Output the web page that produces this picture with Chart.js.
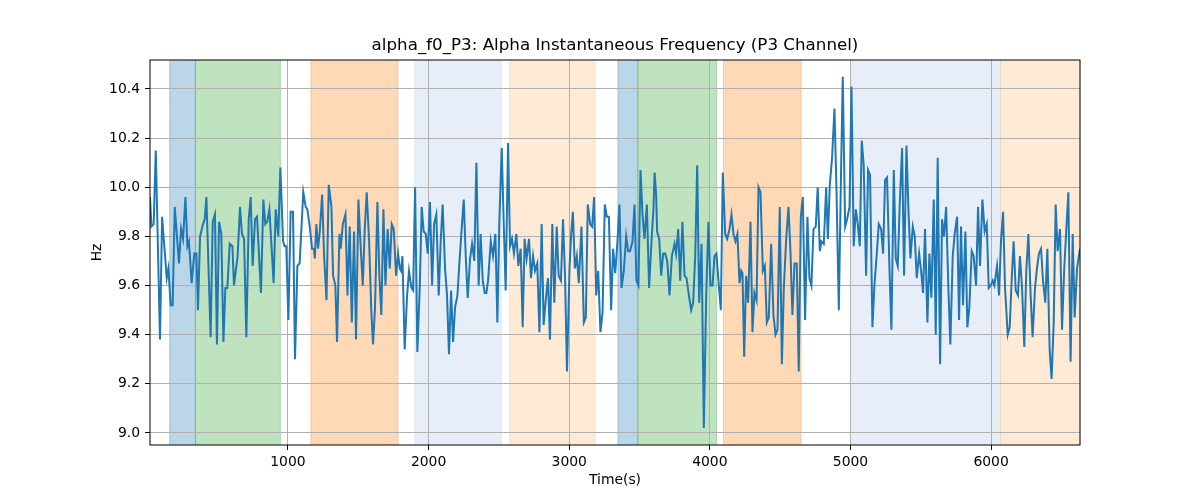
<!DOCTYPE html>
<html>
<head>
  <meta charset="utf-8">
  <title>alpha_f0_P3</title>
  <script src="https://cdn.jsdelivr.net/npm/chart.js"></script>
  <style>
    body { margin: 0; background: #fff; }
    canvas { display: block; }
  </style>
</head>
<body>
  <canvas id="freqChart" width="1200" height="500"></canvas>
  <script>
    // ------------------- DATA --------------------
    const chartTitle = 'alpha_f0_P3: Alpha Instantaneous Frequency (P3 Channel)';

    const timeSec = [
      19,29,45,60,90,105,138,150,166,180,195,225,240,254,271,285,296,315,334,349,360,375,396,408,420,450,465,481,495,510,526,541,555,569,
      586,605,616,642,659,673,688,704,721,735,749,766,780,808,825,839,853,868,898,913,931,946,965,976,988,1003,1019,1036,1050,1067,1083,1109,1126,1138,1157,1171,1185,
      1191,1202,1214,1226,1243,1257,1274,1290,1309,1321,1337,1349,1366,1375,1390,1409,1423,1439,1454,1470,1484,1501,1515,1532,1546,1560,1577,1593,1605,1619,1636,1650,1664,1679,1693,1709,1724,1738,1752,1769,1783,
      1795,1804,1814,1830,1847,1861,1878,1890,1904,1920,1937,1951,1965,1980,1994,2010,2025,2039,2055,2072,2086,2100,2117,2131,2145,2160,2174,2188,2205,2221,2235,2250,2264,2278,2295,2309,2325,2340,2356,2370,2385,
      2399,2411,2423,2442,2458,2475,2489,2503,2520,2534,2548,2565,2579,2593,2607,2624,2638,2655,2669,2683,2697,2714,2728,2743,2757,2773,2788,2804,2818,2833,2849,2863,2880,2894,2911,2925,2941,2956,2970,2984,
      3002,3014,3026,3040,3054,3068,3087,3104,3118,3132,3149,3163,3177,3192,3206,3222,3237,3253,3267,3282,3298,3312,3327,3343,3357,3372,3388,3405,3419,3433,3450,3464,3478,3492,3507,3521,3535,3552,3568,3585,3599,
      3607,3618,3625,3640,3654,3668,3682,3697,3713,3730,3749,3760,3775,3789,3805,3820,3834,3851,3867,3881,3896,3910,3924,3941,3957,3974,3990,4004,4019,4033,4047,4061,4078,4092,4109,4123,4140,4154,4168,4182,4196,
      4211,4223,4232,4244,4258,4272,4289,4303,4317,4332,4346,4360,4377,4391,4405,4419,4436,4452,4467,4481,4497,4512,4526,4542,4559,4573,4587,4602,4618,4632,4647,4661,4677,4694,4708,4722,4737,4753,4767,4782,4793,4810,
      4827,4839,4853,4869,4886,4900,4917,4931,4945,4962,4976,4993,5007,5023,5038,5052,5066,5080,5094,5111,5125,5139,5156,5170,5187,5201,5218,5232,5246,5260,5277,5291,5308,5322,5336,5350,5367,5381,5398,5412,
      5426,5443,5457,5471,5488,5502,5516,5530,5547,5561,5575,5592,5606,5620,5637,5651,5665,5680,5696,5710,5727,5741,5758,5772,5786,5800,5817,5831,5845,5862,5876,5893,5907,5921,5938,5954,5969,5983,5997,6011,
      6023,6042,6056,6070,6085,6099,6118,6132,6146,6160,6175,6191,6205,6220,6236,6250,6265,6281,6295,6312,6326,6340,6355,6369,6385,6400,6416,6430,6445,6459,6473,6490,6504,6520,6535,6549,6565,6580,6594,6611,6632
    ];

    const alphaHz = [
      9.96,9.84,9.85,10.15,9.38,9.88,9.63,9.67,9.52,9.52,9.92,9.69,9.83,9.79,9.96,9.76,9.78,9.61,9.73,9.73,9.50,9.80,9.85,9.87,9.96,9.39,9.86,9.89,9.36,9.86,9.81,9.37,9.59,9.59,
      9.77,9.76,9.60,9.72,9.92,9.81,9.79,9.39,9.87,9.96,9.68,9.87,9.88,9.57,9.95,9.85,9.86,9.91,9.61,9.91,9.80,10.08,9.78,9.76,9.76,9.46,9.90,9.90,9.30,9.68,9.69,9.98,9.92,9.91,9.83,9.75,9.75,
      9.71,9.85,9.75,9.82,9.97,9.72,9.54,10.01,9.92,9.64,9.60,9.37,9.81,9.75,9.85,9.89,9.56,9.84,9.45,9.82,9.38,9.95,9.78,9.60,9.83,9.98,9.78,9.49,9.36,9.51,9.94,9.64,9.48,9.91,9.60,9.83,9.67,9.85,9.83,9.64,9.73,
      9.67,9.66,9.72,9.34,9.56,9.66,9.59,9.58,10.00,9.33,9.59,9.92,9.82,9.81,9.73,9.94,9.60,9.85,9.89,9.56,9.78,9.93,9.67,9.56,9.32,9.58,9.37,9.51,9.56,9.71,9.83,9.95,9.72,9.55,9.71,9.77,9.70,10.10,9.60,9.81,9.62,
      9.57,9.57,9.62,9.78,9.72,9.81,9.45,9.86,10.16,9.86,9.58,10.18,9.76,9.79,9.73,9.81,9.68,9.75,9.43,9.79,9.71,9.79,9.63,9.72,9.66,9.69,9.41,9.85,9.44,9.54,9.63,9.38,9.85,9.53,9.84,9.64,9.62,9.87,9.64,9.25,
      9.67,9.81,9.90,9.67,9.72,9.61,9.84,9.45,9.47,9.93,9.85,9.84,9.96,9.56,9.66,9.41,9.49,9.93,9.88,9.88,9.50,9.75,9.65,9.78,9.93,9.59,9.66,9.80,9.74,9.74,9.78,9.93,9.62,9.60,10.07,9.89,9.79,9.93,9.59,9.78,9.91,
      10.06,9.97,9.82,9.79,9.64,9.73,9.73,9.70,9.56,9.72,9.77,9.73,9.83,9.62,9.86,9.64,9.63,9.56,9.50,9.53,9.72,10.09,9.53,9.77,9.02,9.56,9.86,9.60,9.60,9.72,9.73,9.62,9.50,10.06,9.81,9.79,9.83,9.89,9.81,9.78,9.81,
      9.61,9.66,9.65,9.31,9.64,9.53,9.86,9.41,9.57,9.54,10.00,9.98,9.66,9.68,9.45,9.47,9.77,9.48,9.40,9.42,9.92,9.28,9.59,9.78,9.92,9.74,9.48,9.69,9.69,9.25,9.88,9.96,9.46,9.88,9.63,9.60,9.83,9.84,10.00,9.74,9.78,9.77,
      10.00,9.79,10.01,10.12,10.32,10.00,9.50,10.00,10.45,9.84,9.87,9.92,10.41,9.76,9.91,9.85,9.76,10.19,10.09,9.64,10.07,10.05,9.43,9.60,9.73,9.85,9.83,9.73,10.03,10.04,9.67,9.42,10.07,9.71,9.68,9.93,10.16,9.64,10.17,9.91,
      9.71,9.84,9.80,9.63,9.73,9.66,9.57,9.83,9.45,9.73,9.55,9.95,9.40,10.12,9.28,9.87,9.80,9.92,9.59,9.36,9.72,9.81,9.88,9.46,9.84,9.52,9.82,9.43,9.51,9.74,9.72,9.60,9.92,9.68,9.95,9.82,9.85,9.59,9.60,9.62,
      9.60,9.68,9.56,9.78,9.90,9.59,9.40,9.43,9.62,9.78,9.58,9.56,9.72,9.59,9.35,9.66,9.81,9.56,9.39,9.59,9.67,9.73,9.75,9.62,9.53,9.75,9.34,9.22,9.45,9.93,9.74,9.83,9.42,9.67,9.83,9.98,9.29,9.81,9.47,9.67,9.75
    ];

    // shaded state periods
    const bandStart = [159, 342, 1163, 1901, 2576, 3346, 3488, 4097, 5009, 6066];
    const bandEnd   = [342, 946, 1782, 2517, 3185, 3488, 4047, 4649, 6066, 6632];
    const bandColor = [
      'rgba(31,119,180,0.3)', 'rgba(44,160,44,0.3)', 'rgba(255,127,14,0.3)',
      'rgba(174,199,232,0.3)', 'rgba(255,187,120,0.3)',
      'rgba(31,119,180,0.3)', 'rgba(44,160,44,0.3)', 'rgba(255,127,14,0.3)',
      'rgba(174,199,232,0.3)', 'rgba(255,187,120,0.3)'
    ];

    const xTicks = [1000, 2000, 3000, 4000, 5000, 6000];
    const yTicks = [9.0, 9.2, 9.4, 9.6, 9.8, 10.0, 10.2, 10.4];

    // ------------------- PLUGINS --------------------
    const bandsPlugin = {
      id: 'bands',
      beforeDraw(chart) {
        const { ctx, chartArea: a, scales: { x } } = chart;
        ctx.save();
        for (let i = 0; i < bandStart.length; i++) {
          const x1 = Math.max(a.left, x.getPixelForValue(bandStart[i]));
          const x2 = Math.min(a.right, x.getPixelForValue(bandEnd[i]));
          ctx.fillStyle = bandColor[i];
          ctx.fillRect(x1, a.top, x2 - x1, a.bottom - a.top);
          ctx.strokeStyle = bandColor[i];
          ctx.lineWidth = 1;
          ctx.beginPath();
          ctx.moveTo(x1, a.top); ctx.lineTo(x1, a.bottom);
          ctx.moveTo(x2, a.top); ctx.lineTo(x2, a.bottom);
          ctx.stroke();
        }
        ctx.restore();
      }
    };

    // frame + title centred over the plot area (matplotlib style)
    const framePlugin = {
      id: 'frame',
      afterDraw(chart) {
        const { ctx, chartArea: a } = chart;
        ctx.save();
        ctx.strokeStyle = '#000';
        ctx.lineWidth = 1;
        ctx.strokeRect(a.left, a.top, a.right - a.left, a.bottom - a.top);
        ctx.fillStyle = '#000';
        ctx.font = '16.7px "DejaVu Sans"';
        ctx.textAlign = 'center';
        ctx.textBaseline = 'middle';
        ctx.fillText(chartTitle, (a.left + a.right) / 2, 46);
        ctx.restore();
      }
    };

    // ------------------- CHART --------------------
    const font = { family: 'DejaVu Sans', size: 13.9 };

    const freqChart = new Chart(document.getElementById('freqChart'), {
      type: 'line',
      data: {
        datasets: [{
          data: timeSec.map((t, i) => ({ x: t, y: alphaHz[i] })),
          borderColor: '#1f77b4',
          borderWidth: 2,
          pointRadius: 0,
          tension: 0,
          fill: false
        }]
      },
      options: {
        responsive: false,
        animation: false,
        layout: { padding: { left: 0, right: 120, top: 60, bottom: 0 } },
        plugins: {
          legend: { display: false },
          tooltip: { enabled: false },
          title: { display: false }
        },
        scales: {
          x: {
            type: 'linear',
            min: timeSec[0],
            max: timeSec[timeSec.length - 1],
            afterBuildTicks: (s) => { s.ticks = xTicks.map(v => ({ value: v })); },
            afterFit: (s) => { s.height = 55; },
            grid: { color: '#b0b0b0', lineWidth: 1, tickColor: '#000', tickLength: 5 },
            border: { display: false },
            ticks: { color: '#000', font, padding: 4, maxRotation: 0, callback: (v) => String(v) },
            title: { display: true, text: 'Time(s)', color: '#000', font, padding: { top: 0, bottom: 11 } }
          },
          y: {
            min: 8.951,
            max: 10.518,
            afterBuildTicks: (s) => { s.ticks = yTicks.map(v => ({ value: v })); },
            afterFit: (s) => { s.width = 150; },
            grid: { color: '#b0b0b0', lineWidth: 1, tickColor: '#000', tickLength: 5 },
            border: { display: false },
            ticks: { color: '#000', font, padding: 5, callback: (v) => (+v).toFixed(1) },
            title: { display: true, text: 'Hz', color: '#000', font, padding: { top: 89, bottom: 0 } }
          }
        }
      },
      plugins: [bandsPlugin, framePlugin]
    });
  </script>
</body>
</html>
